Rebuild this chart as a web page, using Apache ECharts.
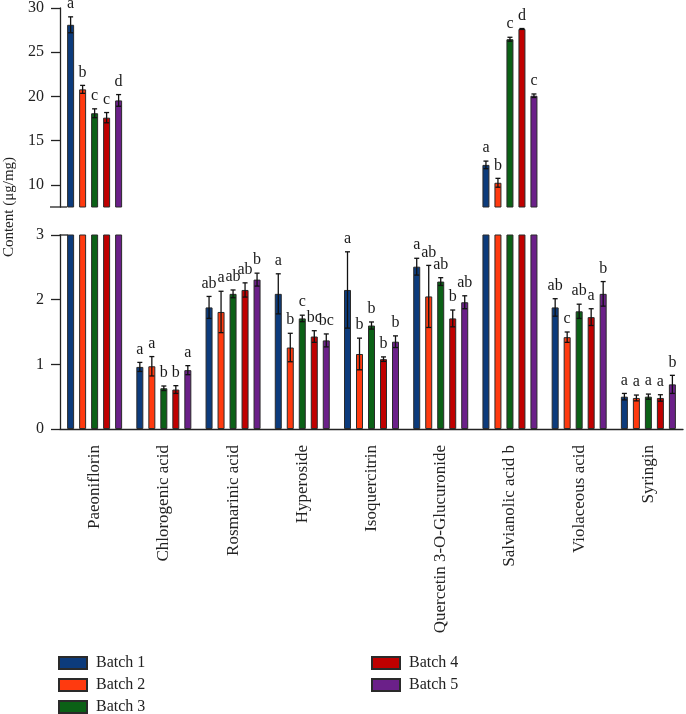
<!DOCTYPE html>
<html><head><meta charset="utf-8">
<script src="https://cdn.jsdelivr.net/npm/echarts@6/dist/echarts.min.js"></script>
<style>html,body{margin:0;padding:0;background:#fff}#c{width:686px;height:714px}</style>
</head><body><div id="c"></div>
<script>
const categories = ['Paeoniflorin','Chlorogenic acid','Rosmarinic acid','Hyperoside','Isoquercitrin','Quercetin 3-O-Glucuronide','Salvianolic acid b','Violaceous acid','Syringin'];
const batchNames = ['Batch 1','Batch 2','Batch 3','Batch 4','Batch 5'];
const batch1 = [28.1, 0.96, 1.88, 2.09, 2.15, 2.51, 12.26, 1.88, 0.50];
const batch2 = [20.8, 0.97, 1.81, 1.26, 1.16, 2.05, 10.24, 1.42, 0.48];
const batch3 = [18.1, 0.63, 2.09, 1.71, 1.60, 2.28, 26.47, 1.82, 0.50];
const batch4 = [17.6, 0.61, 2.15, 1.43, 1.08, 1.71, 27.63, 1.73, 0.48];
const batch5 = [19.55, 0.91, 2.31, 1.37, 1.35, 1.96, 20.08, 2.09, 0.69];
const err1 = [0.9, 0.07, 0.17, 0.31, 0.59, 0.13, 0.43, 0.135, 0.05];
const err2 = [0.45, 0.15, 0.32, 0.22, 0.245, 0.48, 0.5, 0.08, 0.045];
const err3 = [0.5, 0.035, 0.06, 0.05, 0.055, 0.06, 0.22, 0.11, 0.04];
const err4 = [0.58, 0.06, 0.11, 0.09, 0.035, 0.13, 0.05, 0.13, 0.05];
const err5 = [0.66, 0.07, 0.1, 0.1, 0.09, 0.1, 0.2, 0.19, 0.14];
const sig1 = ['a','a','ab','a','a','a','a','ab','a'];
const sig2 = ['b','a','a','b','b','ab','b','c','a'];
const sig3 = ['c','b','ab','c','b','ab','c','ab','a'];
const sig4 = ['c','b','ab','bc','b','b','d','a','a'];
const sig5 = ['d','a','b','bc','b','ab','c','b','b'];
const upperTicks = [10, 15, 20, 25, 30];
const upperMin = 7.5, upperMax = 30;
const lowerMin = 0, lowerMax = 3, lowerStep = 1;

const values = [batch1, batch2, batch3, batch4, batch5];
const errs = [err1, err2, err3, err4, err5];
const sigs = [sig1, sig2, sig3, sig4, sig5];
const colors = ['#0c3b7c', '#ff3a0f', '#0b6116', '#c00000', '#6b2089'];
const FONT = '"Liberation Serif", "Times New Roman", serif';
const BAR_W = 7, BAR_STEP = 12;

const chart = echarts.init(document.getElementById('c'), null, {renderer: 'canvas'});

function errData(upper) {
  const out = [];
  values.forEach((arr, b) => arr.forEach((v, i) => {
    if ((v > lowerMax) === upper) out.push([i, b, v, errs[b][i]]);
  }));
  return out;
}
function renderErr(params, api) {
  const cat = api.value(0), b = api.value(1), m = api.value(2), s = api.value(3);
  const letter = sigs[b][cat];
  const xc = api.coord([cat, m])[0] + (b - 2) * BAR_STEP;
  const yT = api.coord([cat, m + s])[1];
  const yB = api.coord([cat, m - s])[1];
  const cap = 2.5;
  const st = {stroke: '#111', lineWidth: 1.3};
  return {type: 'group', children: [
    {type: 'line', shape: {x1: xc, y1: yT, x2: xc, y2: yB}, style: st},
    {type: 'line', shape: {x1: xc - cap, y1: yT, x2: xc + cap, y2: yT}, style: st},
    {type: 'line', shape: {x1: xc - cap, y1: yB, x2: xc + cap, y2: yB}, style: st},
    {type: 'text', x: xc, y: yT - 5, style: {text: letter, fill: '#1a1a1a', font: '16px ' + FONT, align: 'center', verticalAlign: 'bottom'}}
  ]};
}

const axisLineStyle = {color: '#222', width: 1.3};
const series = [];
values.forEach((arr, b) => {
  series.push({
    name: batchNames[b], type: 'bar', xAxisIndex: 0, yAxisIndex: 0,
    data: arr.map(v => v > lowerMax ? v : '-'),
    barWidth: BAR_W, barGap: ((BAR_STEP - BAR_W) / BAR_W * 100) + '%',
    itemStyle: {color: colors[b], borderColor: '#2a2a2a', borderWidth: 1},
    clip: true, silent: true
  });
  series.push({
    name: batchNames[b], type: 'bar', xAxisIndex: 1, yAxisIndex: 1,
    data: arr.slice(),
    barWidth: BAR_W, barGap: ((BAR_STEP - BAR_W) / BAR_W * 100) + '%',
    itemStyle: {color: colors[b], borderColor: '#2a2a2a', borderWidth: 1},
    clip: true, silent: true
  });
});
series.push({type: 'custom', xAxisIndex: 0, yAxisIndex: 0, data: errData(true), renderItem: renderErr, encode: {x: 0, y: 2}, z: 5, clip: false, silent: true});
series.push({type: 'custom', xAxisIndex: 1, yAxisIndex: 1, data: errData(false), renderItem: renderErr, encode: {x: 0, y: 2}, z: 5, clip: false, silent: true});

const legendCommon = {
  orient: 'vertical', icon: 'rect', itemWidth: 28, itemHeight: 12, itemGap: 6, padding: 0,
  height: 90, width: 200,
  textStyle: {fontFamily: FONT, fontSize: 16, color: '#222', lineHeight: 12, padding: [0, 0, 0, 4]},
  selectedMode: false
};

const option = {
  animation: false,
  backgroundColor: '#fff',
  grid: [
    {left: 60, right: 3, top: 7, height: 200},
    {left: 60, right: 3, top: 235, height: 194}
  ],
  xAxis: [
    {type: 'category', gridIndex: 0, data: categories, show: false},
    {type: 'category', gridIndex: 1, data: categories,
     axisLine: {lineStyle: axisLineStyle},
     axisTick: {alignWithLabel: true, length: 8, lineStyle: axisLineStyle},
     axisLabel: {rotate: 90, margin: 16, fontFamily: FONT, fontSize: 17, color: '#222', interval: 0}}
  ],
  yAxis: [
    {type: 'value', gridIndex: 0, min: upperMin, max: upperMax,
     splitLine: {show: false},
     axisLine: {show: true, lineStyle: axisLineStyle},
     axisTick: {show: true, length: 9, lineStyle: axisLineStyle, customValues: upperTicks},
     axisLabel: {margin: 16, fontFamily: FONT, fontSize: 16, color: '#222', customValues: upperTicks}},
    {type: 'value', gridIndex: 1, min: lowerMin, max: lowerMax, interval: lowerStep,
     splitLine: {show: false},
     axisLine: {show: true, lineStyle: axisLineStyle},
     axisTick: {show: true, length: 9, lineStyle: axisLineStyle},
     axisLabel: {margin: 16, fontFamily: FONT, fontSize: 16, color: '#222'}}
  ],
  legend: [
    Object.assign({}, legendCommon, {left: 58, top: 655, data: batchNames.slice(0, 3)}),
    Object.assign({}, legendCommon, {left: 371, top: 655, data: batchNames.slice(3)})
  ],
  series: series
};
chart.setOption(option);

// axis-break caps and y axis title
const yBreakUp = chart.convertToPixel({yAxisIndex: 0}, upperMin);
const yBreakLo = chart.convertToPixel({yAxisIndex: 1}, lowerMax);
chart.setOption({
  graphic: [
    {type: 'line', shape: {x1: 50, y1: yBreakUp, x2: 67, y2: yBreakUp}, style: {stroke: '#222', lineWidth: 1.3}},
    {type: 'line', shape: {x1: 59.5, y1: yBreakLo, x2: 68, y2: yBreakLo}, style: {stroke: '#222', lineWidth: 1.3}},
    {type: 'text', x: 9, y: yBreakUp, rotation: Math.PI / 2,
     style: {text: 'Content (μg/mg)', font: '15px ' + FONT, fill: '#222', align: 'center', verticalAlign: 'middle'}}
  ]
});
</script></body></html>
